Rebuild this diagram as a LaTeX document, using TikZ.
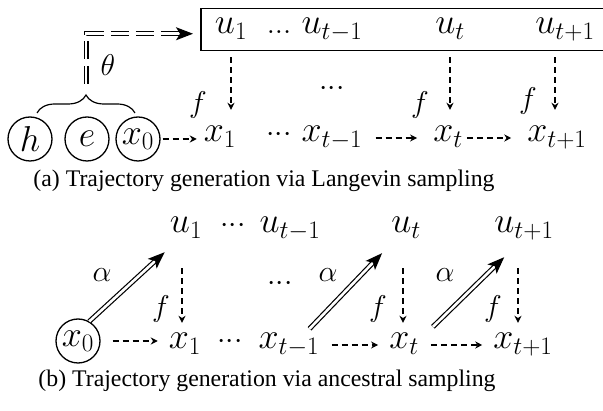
\documentclass[tikz,border=0pt]{standalone}
\usepackage{fix-cm}
\usepackage[no-math]{fontspec}
\setmainfont{Liberation Serif}
\usetikzlibrary{arrows.meta,decorations.pathreplacing}

\begin{document}
\begin{tikzpicture}[
  x=1pt, y=-1pt,
  var/.style={inner sep=0pt, anchor=base, text height=20pt, text depth=12pt, font=\fontsize{36}{40}\selectfont},
  dts/.style={inner sep=0pt, anchor=base, font=\fontsize{30}{32}\selectfont},
  obs/.style={circle, draw, line width=1.3pt, minimum size=44pt, inner sep=0pt, font=\fontsize{36}{40}\selectfont},
  lab/.style={inner sep=0pt, font=\fontsize{30}{32}\selectfont},
  caption/.style={anchor=base, inner sep=0pt, font=\fontsize{23.8}{28}\selectfont},
  ar/.style={-{Stealth[length=7pt,width=7pt]}, line width=1.2pt, dash pattern=on 6pt off 4pt, shorten <=12pt, shorten >=11pt},
  dbl/.style={double, double distance=2.6pt, line width=1.2pt, -{Stealth[length=17pt,width=13pt,inset=4pt]}},
]
\useasboundingbox (0,0) rectangle (603,411);
% (a) Langevin sampling
\node[draw, line width=1.5pt, minimum width=406pt, minimum height=42pt, inner sep=0pt, anchor=north west] (box) at (200,8) {};
\node[var] (ua1) at (231,34) {$u_1$};
\node[dts] (uadots) at (279,34) {${.}{.}{.}$};
\node[var] (uat1m) at (332,34) {$u_{t-1}$};
\node[var] (uat) at (450,34) {$u_t$};
\node[var] (uatp) at (565,34) {$u_{t+1}$};
\node[obs] (ha) at (30,139) {$h$};
\node[obs] (ea) at (87,139) {$e$};
\node[obs] (xa0) at (138,139) {$x_0$};
\node[var] (xa1) at (220,142) {$x_1$};
\node[dts] (xadots) at (279,142) {${\cdot}{\cdot}{\cdot}$};
\node[var] (xat1m) at (332,142) {$x_{t-1}$};
\node[var] (xat) at (448,142) {$x_t$};
\node[var] (xatp) at (557,142) {$x_{t+1}$};
\node[dts] (mida) at (332,96) {${\cdot}{\cdot}{\cdot}$};
\node[lab] (tha) at (108,65) {$\theta$};
\node[lab] (fa1) at (198,105) {$f$};
\node[lab] (fat) at (420,105) {$f$};
\node[lab] (fatp) at (528,101) {$f$};
\coordinate (btl) at (37,113);
\coordinate (btr) at (135,113);
\coordinate (tip) at (86,84);
\draw[line width=1.2pt, decorate, decoration={brace, amplitude=18pt}] (btl) -- (btr);
\draw[dbl, dash pattern=on 18pt off 7pt, shorten >=7pt] (tip) |- ([yshift=-4pt]box.west);
\draw[ar, shorten <=11pt, shorten >=12pt] (ua1.south) -- (ua1.south |- xa1.north);
\draw[ar, shorten <=11pt, shorten >=12pt] (uat.south) -- (uat.south |- xat.north);
\draw[ar, shorten <=11pt, shorten >=12pt] ([xshift=-10pt]uatp.south) -- ([xshift=-10pt]uatp.south |- xatp.north);
\draw[ar, shorten <=2pt, shorten >=7pt] (xa0) -- (xa1.west |- xa0);
\draw[ar, shorten <=13pt, shorten >=16pt] (xat1m) -- (xat);
\draw[ar, shorten <=4pt, shorten >=16pt] (xat) -- (xatp);
\node[caption] (capa) at (264,187) {(a) Trajectory generation via Langevin sampling};
% (b) ancestral sampling
\node[var] (ub1) at (186,233) {$u_1$};
\node[dts] (ubdots) at (233,233) {${\cdot}{\cdot}{\cdot}$};
\node[var] (ubt1m) at (290,233) {$u_{t-1}$};
\node[var] (ubt) at (406,233) {$u_t$};
\node[var] (ubtp) at (524,233) {$u_{t+1}$};
\node[obs] (xb0) at (78,341) {$x_0$};
\node[var] (xb1) at (185,349) {$x_1$};
\node[dts] (xbdots) at (230,349) {${\cdot}{\cdot}{\cdot}$};
\node[var] (xbt1m) at (289,349) {$x_{t-1}$};
\node[var] (xbt) at (404,349) {$x_t$};
\node[var] (xbtp) at (523,349) {$x_{t+1}$};
\node[dts] (midb) at (280,291) {${\cdot}{\cdot}{\cdot}$};
\node[lab] (al1) at (102,275) {$\alpha$};
\node[lab] (alt) at (328,275) {$\alpha$};
\node[lab] (altp) at (445,275) {$\alpha$};
\node[lab] (fb1) at (161,309) {$f$};
\node[lab] (fbt) at (378,309) {$f$};
\node[lab] (fbtp) at (493,309) {$f$};
\draw[dbl] (xb0.60) -- ([shift={(-5pt,-7pt)}]ub1.south west);
\draw[dbl] ([xshift=-10pt]xbt1m.north east) -- ([shift={(-9pt,-8pt)}]ubt.south west);
\draw[dbl] ([shift={(14pt,2pt)}]xbt.north east) -- ([shift={(10pt,-12pt)}]ubtp.south west);
\draw[ar, shorten <=23pt, shorten >=6pt] ([xshift=-4pt]ub1.south) -- ([xshift=-4pt]ub1.south |- xb1.north);
\draw[ar, shorten <=23pt, shorten >=6pt] ([xshift=-3pt]ubt.south) -- ([xshift=-3pt]ubt.south |- xbt.north);
\draw[ar, shorten <=23pt, shorten >=6pt] ([xshift=-6pt]ubtp.south) -- ([xshift=-6pt]ubtp.south |- xbtp.north);
\draw[ar] (xb0) -- (xb1.west |- xb0);
\draw[ar] (xbt1m) -- (xbt);
\draw[ar] (xbt) -- (xbtp);
\node[caption] (capb) at (267,387) {(b) Trajectory generation via ancestral sampling};
\end{tikzpicture}
\end{document}
